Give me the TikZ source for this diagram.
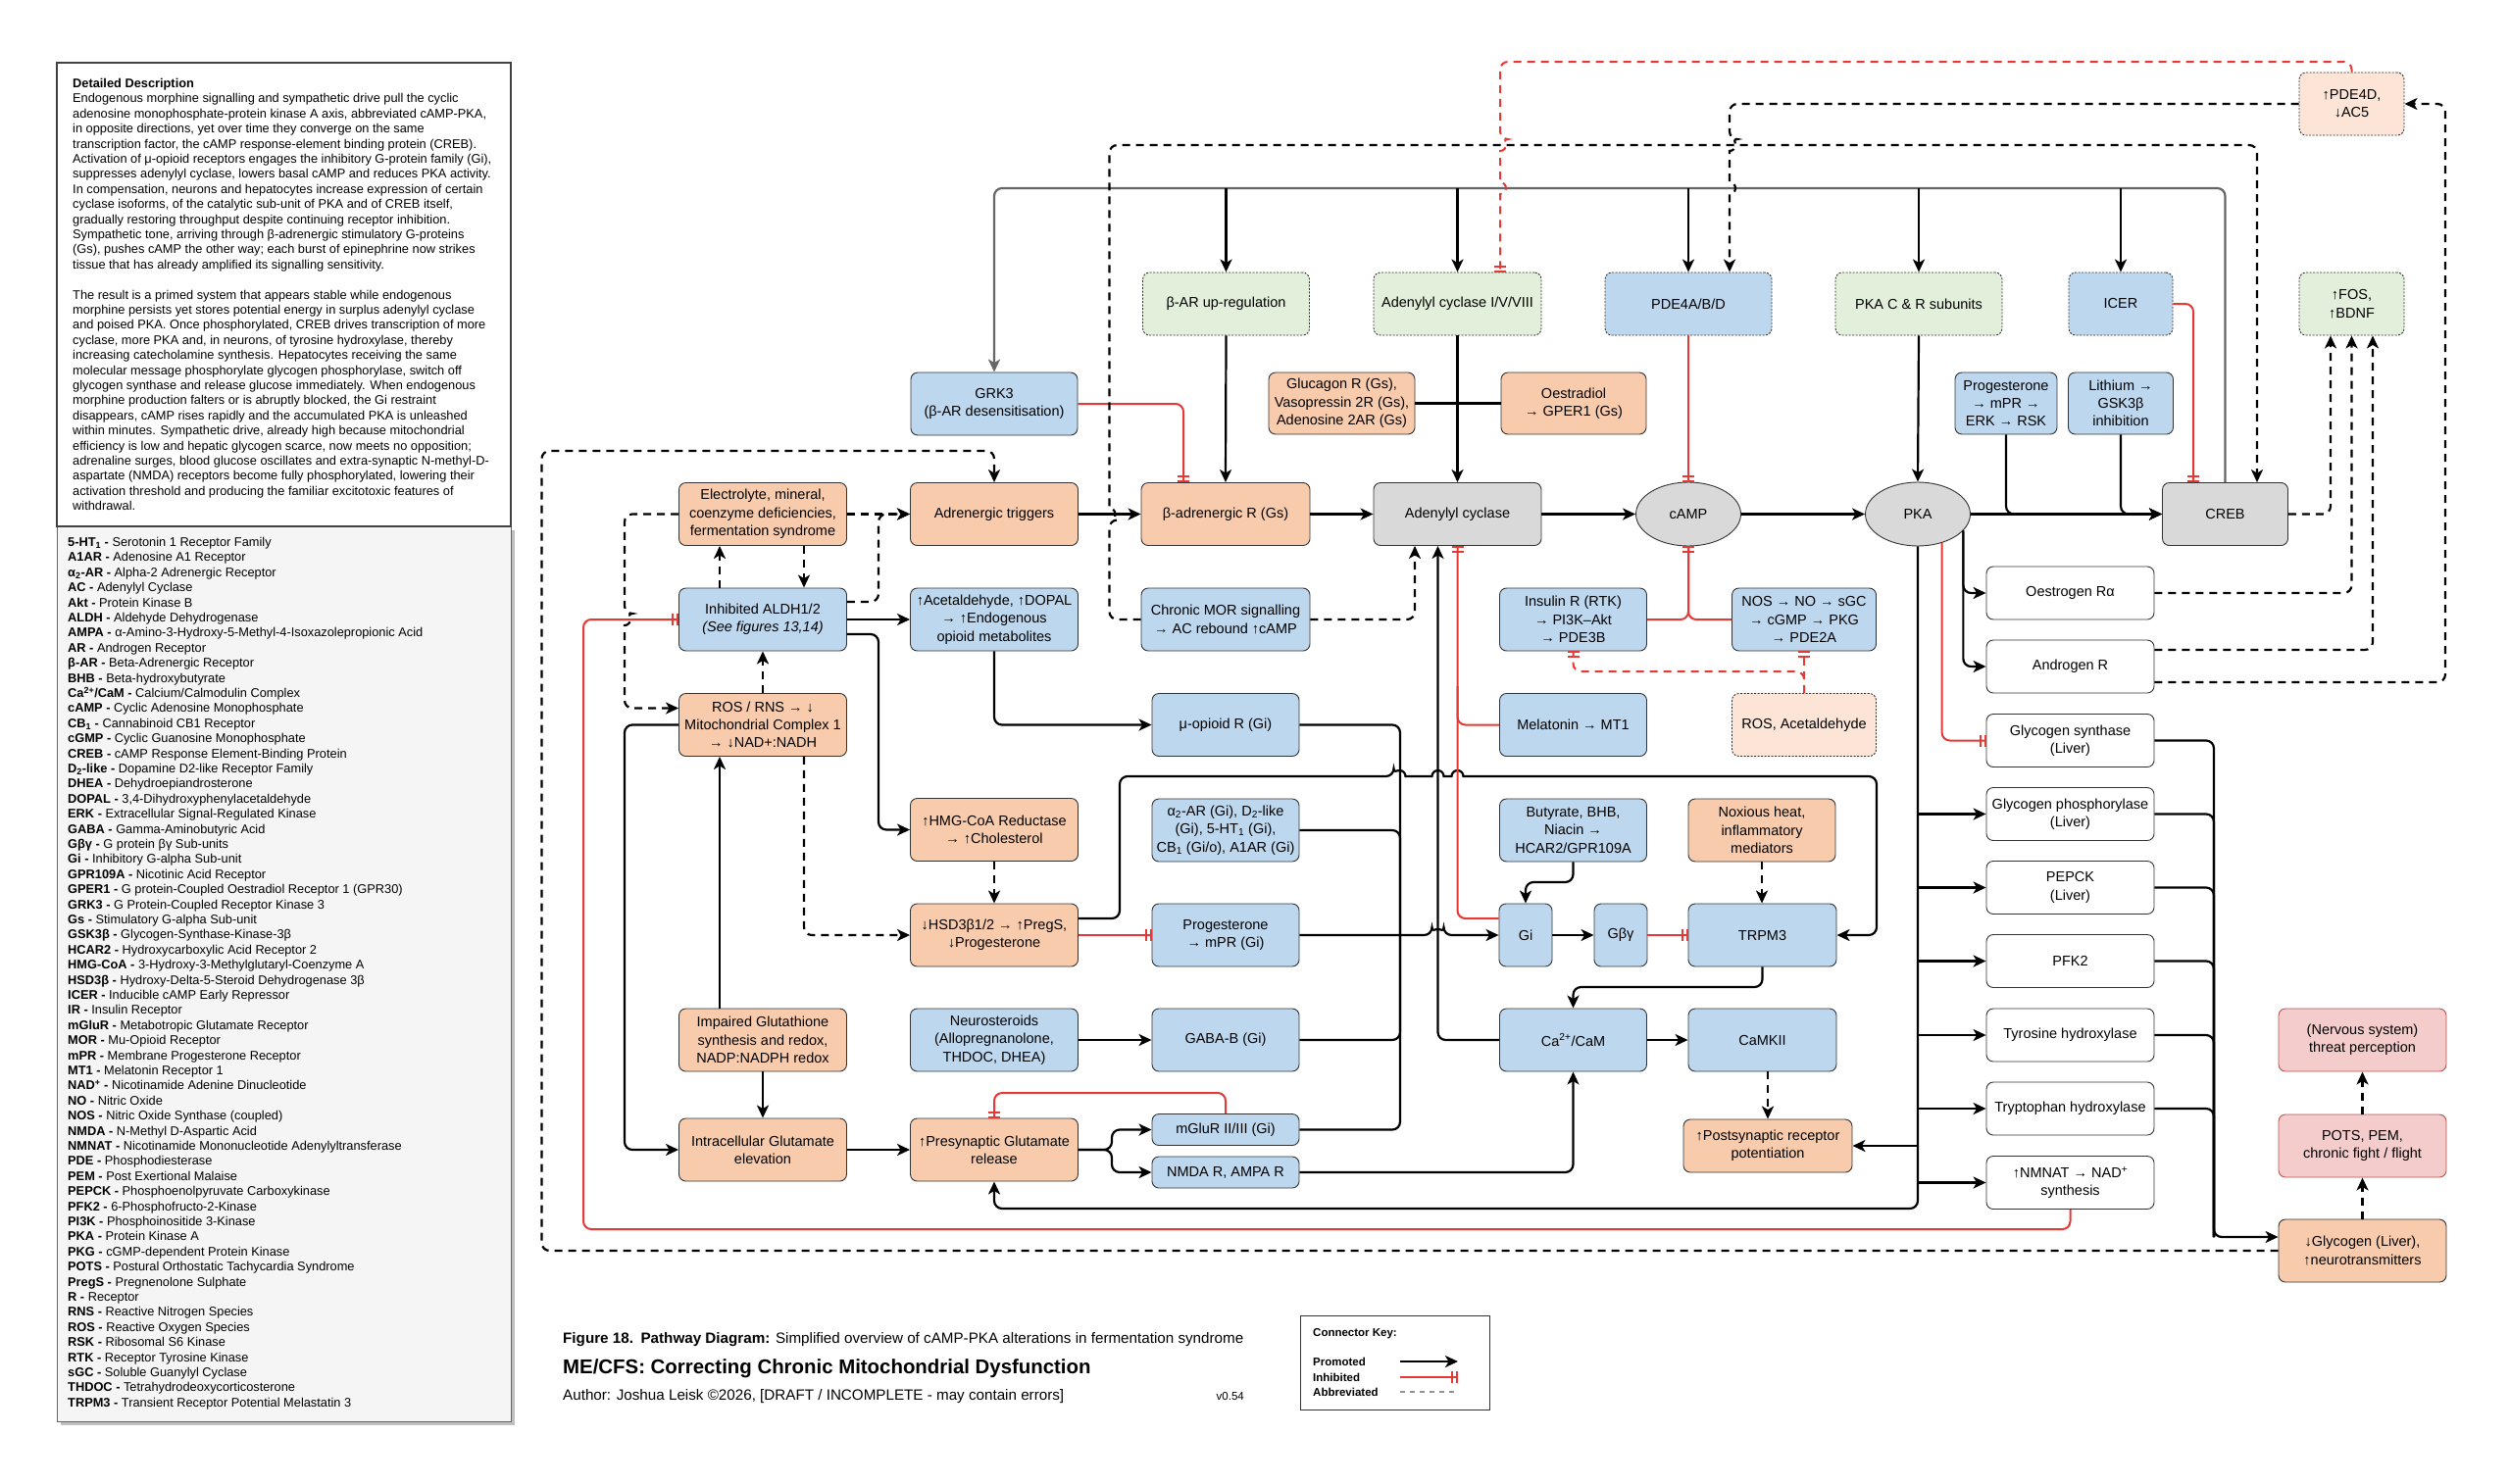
\documentclass[tikz,border=0pt]{standalone}
\usepackage{fontspec}
\setmainfont{Liberation Sans}
\usetikzlibrary{arrows.meta,shapes.geometric}

\definecolor{orfill}{HTML}{F8CBAD}
\definecolor{blfill}{HTML}{BDD7EE}
\definecolor{gyfill}{HTML}{D9D9D9}
\definecolor{grfill}{HTML}{E2EFDA}
\definecolor{pkfill}{HTML}{F4CCCC}
\definecolor{pkline}{HTML}{B85450}
\definecolor{lofill}{HTML}{FCE4D6}
\definecolor{inhred}{HTML}{E53935}
\definecolor{boxline}{HTML}{333333}
\definecolor{busgray}{HTML}{666666}
\definecolor{panelfill}{HTML}{F5F5F5}

\newcommand{\nodefont}{\fontsize{14.5}{18.3}\selectfont}
\newcommand{\panelfont}{\fontsize{12.8}{15.4}\selectfont}
\newcommand{\capfont}{\fontsize{15.2}{18}\selectfont}
\newcommand{\keyfont}{\fontsize{11.5}{14}\selectfont}
\newcommand{\abrow}[2]{\textbf{#1 -} #2}

\tikzset{
  pbox/.style={draw=boxline, line width=0.9pt, rounded corners=7pt, align=center,
    inner sep=2pt, font=\nodefont, minimum width=171pt, minimum height=64pt},
  orbox/.style={pbox, fill=orfill},
  blbox/.style={pbox, fill=blfill},
  gybox/.style={pbox, fill=gyfill},
  wtbox/.style={pbox, fill=white, minimum height=54pt},
  pkbox/.style={pbox, fill=pkfill, draw=pkline},
  grbox/.style={pbox, fill=grfill, dash pattern=on 2pt off 1.5pt},
  bldbox/.style={pbox, fill=blfill, dash pattern=on 2pt off 1.5pt},
  lobox/.style={pbox, fill=lofill, dash pattern=on 2pt off 1.5pt},
  oval/.style={ellipse, draw=boxline, line width=0.9pt, fill=gyfill, font=\nodefont,
    minimum width=107pt, minimum height=65pt, inner sep=0pt},
  link/.style={line width=2.2pt, rounded corners=8pt},
  pro/.style={link, -{Stealth[length=13pt,width=12pt,inset=3.5pt]}},
  abb/.style={pro, dash pattern=on 8pt off 6pt},
  inh/.style={draw=inhred, line width=2pt, rounded corners=8pt,
    -{Bar[width=12pt,sep=3pt]Bar[width=12pt]}},
  inhd/.style={inh, dash pattern=on 8pt off 6pt},
  bus/.style={draw=busgray, line width=2.2pt, rounded corners=8pt,
    -{Stealth[length=13pt,width=12pt,inset=3.5pt]}},
}

\begin{document}
\begin{tikzpicture}[x=1pt,y=-1pt]
\useasboundingbox (0,0) rectangle (2560,1513);
\fill[white] (0,0) rectangle (2560,1513);

% left panel
\fill[black!25] (62,541) rectangle (525,1454);
\draw[busgray, line width=1pt, fill=panelfill] (58,537) rectangle (521,1450);
\draw[black!75, line width=1.2pt, fill=white] (58,64) rectangle (521,537);
\node[anchor=north west, align=left, inner sep=0pt, font=\panelfont] (desc) at (74,80) {%
\textbf{Detailed Description}\\
Endogenous morphine signalling and sympathetic drive pull the cyclic\\
adenosine monophosphate-protein kinase A axis, abbreviated cAMP-PKA,\\
in opposite directions, yet over time they converge on the same\\
transcription factor, the cAMP response-element binding protein (CREB).\\
Activation of μ-opioid receptors engages the inhibitory G-protein family (Gi),\\
suppresses adenylyl cyclase, lowers basal cAMP and reduces PKA activity.\\
In compensation, neurons and hepatocytes increase expression of certain\\
cyclase isoforms, of the catalytic sub-unit of PKA and of CREB itself,\\
gradually restoring throughput despite continuing receptor inhibition.\\
Sympathetic tone, arriving through β-adrenergic stimulatory G-proteins\\
(Gs), pushes cAMP the other way; each burst of epinephrine now strikes\\
tissue that has already amplified its signalling sensitivity.\\[15.4pt]
The result is a primed system that appears stable while endogenous\\
morphine persists yet stores potential energy in surplus adenylyl cyclase\\
and poised PKA. Once phosphorylated, CREB drives transcription of more\\
cyclase, more PKA and, in neurons, of tyrosine hydroxylase, thereby\\
increasing catecholamine synthesis. Hepatocytes receiving the same\\
molecular message phosphorylate glycogen phosphorylase, switch off\\
glycogen synthase and release glucose immediately. When endogenous\\
morphine production falters or is abruptly blocked, the Gi restraint\\
disappears, cAMP rises rapidly and the accumulated PKA is unleashed\\
within minutes. Sympathetic drive, already high because mitochondrial\\
efficiency is low and hepatic glycogen scarce, now meets no opposition;\\
adrenaline surges, blood glucose oscillates and extra-synaptic N-methyl-D-\\
aspartate (NMDA) receptors become fully phosphorylated, lowering their\\
activation threshold and producing the familiar excitotoxic features of\\
withdrawal.};
\node[anchor=north west, align=left, inner sep=0pt, font=\panelfont] (abbrevs) at (69,548) {%
\abrow{5-HT\textsubscript{1}}{Serotonin 1 Receptor Family}\\
\abrow{A1AR}{Adenosine A1 Receptor}\\
\abrow{α\textsubscript{2}-AR}{Alpha-2 Adrenergic Receptor}\\
\abrow{AC}{Adenylyl Cyclase}\\
\abrow{Akt}{Protein Kinase B}\\
\abrow{ALDH}{Aldehyde Dehydrogenase}\\
\abrow{AMPA}{α-Amino-3-Hydroxy-5-Methyl-4-Isoxazolepropionic Acid}\\
\abrow{AR}{Androgen Receptor}\\
\abrow{β-AR}{Beta-Adrenergic Receptor}\\
\abrow{BHB}{Beta-hydroxybutyrate}\\
\abrow{Ca\textsuperscript{2+}/CaM}{Calcium/Calmodulin Complex}\\
\abrow{cAMP}{Cyclic Adenosine Monophosphate}\\
\abrow{CB\textsubscript{1}}{Cannabinoid CB1 Receptor}\\
\abrow{cGMP}{Cyclic Guanosine Monophosphate}\\
\abrow{CREB}{cAMP Response Element-Binding Protein}\\
\abrow{D\textsubscript{2}-like}{Dopamine D2-like Receptor Family}\\
\abrow{DHEA}{Dehydroepiandrosterone}\\
\abrow{DOPAL}{3,4-Dihydroxyphenylacetaldehyde}\\
\abrow{ERK}{Extracellular Signal-Regulated Kinase}\\
\abrow{GABA}{Gamma-Aminobutyric Acid}\\
\abrow{Gβγ}{G protein βγ Sub-units}\\
\abrow{Gi}{Inhibitory G-alpha Sub-unit}\\
\abrow{GPR109A}{Nicotinic Acid Receptor}\\
\abrow{GPER1}{G protein-Coupled Oestradiol Receptor 1 (GPR30)}\\
\abrow{GRK3}{G Protein-Coupled Receptor Kinase 3}\\
\abrow{Gs}{Stimulatory G-alpha Sub-unit}\\
\abrow{GSK3β}{Glycogen-Synthase-Kinase-3β}\\
\abrow{HCAR2}{Hydroxycarboxylic Acid Receptor 2}\\
\abrow{HMG-CoA}{3-Hydroxy-3-Methylglutaryl-Coenzyme A}\\
\abrow{HSD3β}{Hydroxy-Delta-5-Steroid Dehydrogenase 3β}\\
\abrow{ICER}{Inducible cAMP Early Repressor}\\
\abrow{IR}{Insulin Receptor}\\
\abrow{mGluR}{Metabotropic Glutamate Receptor}\\
\abrow{MOR}{Mu-Opioid Receptor}\\
\abrow{mPR}{Membrane Progesterone Receptor}\\
\abrow{MT1}{Melatonin Receptor 1}\\
\abrow{NAD\textsuperscript{+}}{Nicotinamide Adenine Dinucleotide}\\
\abrow{NO}{Nitric Oxide}\\
\abrow{NOS}{Nitric Oxide Synthase (coupled)}\\
\abrow{NMDA}{N-Methyl D-Aspartic Acid}\\
\abrow{NMNAT}{Nicotinamide Mononucleotide Adenylyltransferase}\\
\abrow{PDE}{Phosphodiesterase}\\
\abrow{PEM}{Post Exertional Malaise}\\
\abrow{PEPCK}{Phosphoenolpyruvate Carboxykinase}\\
\abrow{PFK2}{6-Phosphofructo-2-Kinase}\\
\abrow{PI3K}{Phosphoinositide 3-Kinase}\\
\abrow{PKA}{Protein Kinase A}\\
\abrow{PKG}{cGMP-dependent Protein Kinase}\\
\abrow{POTS}{Postural Orthostatic Tachycardia Syndrome}\\
\abrow{PregS}{Pregnenolone Sulphate}\\
\abrow{R}{Receptor}\\
\abrow{RNS}{Reactive Nitrogen Species}\\
\abrow{ROS}{Reactive Oxygen Species}\\
\abrow{RSK}{Ribosomal S6 Kinase}\\
\abrow{RTK}{Receptor Tyrosine Kinase}\\
\abrow{sGC}{Soluble Guanylyl Cyclase}\\
\abrow{THDOC}{Tetrahydrodeoxycorticosterone}\\
\abrow{TRPM3}{Transient Receptor Potential Melastatin 3}};

% main axis
\node[orbox] (elec) at (778,524.5) {Electrolyte, mineral,\\coenzyme deficiencies,\\fermentation syndrome};
\node[orbox] (adrtrig) at (1014,524.5) {Adrenergic triggers};
\node[orbox, minimum width=172pt] (betar) at (1250,524.5) {β-adrenergic R (Gs)};
\node[gybox] (ac) at (1486.5,524.5) {Adenylyl cyclase};
\node[oval] (camp) at (1722,524.5) {cAMP};
\node[oval] (pka) at (1956,524.5) {PKA};
\node[gybox, minimum width=128pt] (creb) at (2269.5,524.5) {CREB};

\node[blbox] (aldh) at (778,632) {Inhibited ALDH1/2\\\textit{(See figures 13,14)}};
\node[blbox] (acet) at (1014,632) {↑Acetaldehyde, ↑DOPAL\\→ ↑Endogenous\\opioid metabolites};
\node[blbox, minimum width=172pt] (mor) at (1250,632) {Chronic MOR signalling\\→ AC rebound ↑cAMP};
\node[blbox, minimum width=150pt] (insr) at (1604.5,632) {Insulin R (RTK)\\→ PI3K–Akt\\→ PDE3B};
\node[blbox, minimum width=147pt] (nos) at (1840,632) {NOS → NO → sGC\\→ cGMP → PKG\\→ PDE2A};

\node[orbox] (ros) at (778,739.5) {ROS / RNS → ↓\\Mitochondrial Complex 1\\→ ↓NAD+:NADH};
\node[blbox, minimum width=150pt] (muor) at (1250,739.5) {μ-opioid R (Gi)};
\node[blbox, minimum width=150pt] (mel) at (1604.5,739.5) {Melatonin → MT1};
\node[lobox, minimum width=147pt] (rosacet) at (1840,739.5) {ROS, Acetaldehyde};

\node[orbox] (hmg) at (1014,846.5) {↑HMG-CoA Reductase\\→ ↑Cholesterol};
\node[blbox, minimum width=150pt] (a2ar) at (1250,847) {α\textsubscript{2}-AR (Gi), D\textsubscript{2}-like\\(Gi), 5-HT\textsubscript{1} (Gi),\\CB\textsubscript{1} (Gi/o), A1AR (Gi)};
\node[blbox, minimum width=150pt] (buty) at (1604.5,847) {Butyrate, BHB,\\Niacin →\\HCAR2/GPR109A};
\node[orbox, minimum width=150pt] (nox) at (1797,847) {Noxious heat,\\inflammatory\\mediators};

\node[orbox] (hsd) at (1014,954) {↓HSD3β1/2 → ↑PregS,\\↓Progesterone};
\node[blbox, minimum width=150pt] (prog) at (1250,954) {Progesterone\\→ mPR (Gi)};
\node[blbox, minimum width=54pt] (gi) at (1556,954) {Gi};
\node[blbox, minimum width=54pt] (gbg) at (1653,954) {Gβγ};
\node[blbox, minimum width=151pt] (trpm) at (1797.5,954) {TRPM3};

\node[orbox] (glut) at (778,1061) {Impaired Glutathione\\synthesis and redox,\\NADP:NADPH redox};
\node[blbox] (neuro) at (1014,1061) {Neurosteroids\\(Allopregnanolone,\\THDOC, DHEA)};
\node[blbox, minimum width=150pt] (gabab) at (1250,1061) {GABA-B (Gi)};
\node[blbox, minimum width=150pt] (cacam) at (1604.5,1061) {Ca\textsuperscript{2+}/CaM};
\node[blbox, minimum width=151pt] (camk) at (1797.5,1061) {CaMKII};

\node[orbox] (intra) at (778,1173) {Intracellular Glutamate\\elevation};
\node[orbox] (pres) at (1014,1173) {↑Presynaptic Glutamate\\release};
\node[blbox, minimum width=150pt, minimum height=32pt] (mglur) at (1250,1152.5) {mGluR II/III (Gi)};
\node[blbox, minimum width=150pt, minimum height=32pt] (nmda) at (1250,1196) {NMDA R, AMPA R};
\node[orbox, minimum width=172pt, minimum height=54pt] (post) at (1803,1169) {↑Postsynaptic receptor\\potentiation};

% top row
\node[blbox, minimum width=170pt] (grk) at (1014,412) {GRK3\\(β-AR desensitisation)};
\node[grbox, minimum width=170pt] (bup) at (1250.5,310) {β-AR up-regulation};
\node[grbox] (acup) at (1486.5,310) {Adenylyl cyclase I/V/VIII};
\node[bldbox, minimum width=170pt] (pde4) at (1722,310) {PDE4A/B/D};
\node[grbox, minimum width=170pt] (pkacr) at (1957,310) {PKA C \& R subunits};
\node[bldbox, minimum width=106pt] (icer) at (2163,310) {ICER};
\node[grbox, minimum width=107pt] (fos) at (2398.5,310) {↑FOS,\\↑BDNF};
\node[lobox, minimum width=107pt] (pde4d) at (2398.5,106) {↑PDE4D,\\↓AC5};
\node[orbox, minimum width=149pt, minimum height=63pt] (gluc) at (1368.5,411.5) {Glucagon R (Gs),\\Vasopressin 2R (Gs),\\Adenosine 2AR (Gs)};
\node[orbox, minimum width=148pt, minimum height=63pt] (oestr) at (1605,411.5) {Oestradiol\\→ GPER1 (Gs)};
\node[blbox, minimum width=104pt, minimum height=63pt] (progmpr) at (2046,411.5) {Progesterone\\→ mPR →\\ERK → RSK};
\node[blbox, minimum width=107pt, minimum height=63pt] (lith) at (2163,411.5) {Lithium →\\GSK3β\\inhibition};

% PKA targets
\node[wtbox] (oer) at (2111.5,605) {Oestrogen Rα};
\node[wtbox] (andr) at (2111.5,680) {Androgen R};
\node[wtbox] (gsyn) at (2111.5,755.5) {Glycogen synthase\\(Liver)};
\node[wtbox] (gphos) at (2111.5,830.5) {Glycogen phosphorylase\\(Liver)};
\node[wtbox] (pepck) at (2111.5,905.5) {PEPCK\\(Liver)};
\node[wtbox] (pfk) at (2111.5,980.5) {PFK2};
\node[wtbox] (tyr) at (2111.5,1056) {Tyrosine hydroxylase};
\node[wtbox] (trp) at (2111.5,1131) {Tryptophan hydroxylase};
\node[wtbox] (nmnat) at (2111.5,1206.5) {↑NMNAT → NAD\textsuperscript{+}\\synthesis};

\node[pkbox] (threat) at (2409.5,1061) {(Nervous system)\\threat perception};
\node[pkbox] (pots) at (2409.5,1169) {POTS, PEM,\\chronic fight / flight};
\node[orbox] (glyco) at (2409.5,1276) {↓Glycogen (Liver),\\↑neurotransmitters};

% left cluster
\draw[abb] (elec.east) -- (adrtrig.west);
\draw[abb] ([yshift=18pt]aldh.east) -- (896,614) -- (896,524.5) -- (adrtrig.west);
\draw[abb] (elec.west) -- (637,524.5) -- (637,626) [sharp corners] arc[start angle=90,end angle=-90,radius=6pt] [rounded corners=8pt] -- (637,722.5) -- ([yshift=17pt]ros.west);
\draw[abb] ([xshift=-44pt]aldh.north) -- ([xshift=-44pt]elec.south);
\draw[abb] ([xshift=42pt]elec.south) -- ([xshift=42pt]aldh.north);
\draw[abb] (ros.north) -- (aldh.south);
\draw[pro] (aldh.east) -- (acet.west);
\draw[pro] ([yshift=-15pt]aldh.east) -- (896,647) -- (896,846.5) -- (hmg.west);
\draw[pro] (acet.south) |- (muor.west);
\draw[abb] ([xshift=42pt]ros.south) |- (hsd.west);
\draw[abb] (hmg.south) -- (hsd.north);
\draw[pro] (ros.west) -| (637,1173) -- (intra.west);
\draw[pro] ([xshift=-44pt]glut.north) -- ([xshift=-44pt]ros.south);
\draw[pro] (glut.south) -- (intra.north);
\draw[pro] (intra.east) -- (pres.west);
\draw[pro] (pres.east) -- (1134,1173) |- (mglur.west);
\draw[pro] (pres.east) -- (1134,1173) |- (nmda.west);
\draw[inh] (mglur.north) |- (1014,1115) -- (pres.north);
\draw[pro] (neuro.east) -- (gabab.west);
\draw[inh] (hsd.east) -- (prog.west);
\draw[pro] ([yshift=17pt]hsd.east) -- (1142,937) -- (1142,792) -- (1421.5,792) [sharp corners]
  arc[start angle=180,end angle=0,radius=6pt] -- (1460.5,792)
  arc[start angle=180,end angle=0,radius=6pt] -- (1480.5,792)
  arc[start angle=180,end angle=0,radius=6pt] -- (1900,792) [rounded corners=8pt] -- (1914,792) -- (1914,954) -- (trpm.east);

% Gi / Ca cluster
\draw[link] (muor.east) -| (1428,954);
\draw[link] (a2ar.east) -| (1428,954);
\draw[link] (gabab.east) -| (1428,954);
\draw[link] (mglur.east) -| (1428,954);
\draw[pro] (prog.east) -- (1460.5,954) arc[start angle=180,end angle=0,radius=6pt] -- (gi.west);
\draw[pro] (cacam.west) -| ([xshift=-20pt]ac.south);
\draw[abb] (mor.east) -| ([xshift=-43.5pt]ac.south);
\draw[inh] ([yshift=17pt]gi.west) -| (ac.south);
\draw[draw=inhred, line width=2pt, rounded corners=8pt] (mel.west) -| (1486.5,700);
\draw[pro] (buty.south) -- (1604.5,900) -| (gi.north);
\draw[pro] (gi.east) -- (gbg.west);
\draw[inh] (gbg.east) -- (trpm.west);
\draw[abb] (nox.south) -- (nox.south |- trpm.north);
\draw[pro] (trpm.south) -- (1797.5,1007) -| (cacam.north);
\draw[pro] (cacam.east) -- (camk.west);
\draw[abb] (post.north |- camk.south) -- (post.north);
\draw[pro] (nmda.east) -| (cacam.south);

% cAMP axis
\draw[pro] (adrtrig.east) -- (betar.west);
\draw[pro] (betar.east) -- (ac.west);
\draw[pro] (ac.east) -- (camp.west);
\draw[pro] (camp.east) -- (pka.west);
\draw[pro] (pka.east) -- (creb.west);
\draw[pro] (progmpr.south) |- (creb.west);
\draw[pro] (lith.south) |- (creb.west);
\draw[inh] (icer.east) -| ([xshift=-32.5pt]creb.north);
\draw[bus] (creb.north) |- (1014,192) -- (grk.north);
\foreach \n in {bup,acup,pde4,pkacr,icer}
  \draw[pro] (\n.north |- 0,192) -- (\n.north);
\draw[pro] (bup.south) -- (betar.north);
\draw[pro] (acup.south) -- (ac.north);
\draw[link] (gluc.east) -- (acup.south |- gluc.east);
\draw[link] (oestr.west) -- (acup.south |- oestr.west);
\draw[inh] (pde4.south) -- (camp.north);
\draw[inh] (insr.east) -| (camp.south);
\draw[inh] (nos.west) -| (camp.south);
\draw[inhd] (rosacet.north) -- (1840,685) -| (insr.south);
\draw[inhd] (rosacet.north) -- (nos.south);
\draw[inh] (grk.east) -| ([xshift=-43pt]betar.north);
\draw[pro] (pkacr.south) -- (pka.north);

% feedback loops
\draw[abb] (mor.west) -| (1131.5,530.5) [sharp corners] arc[start angle=-90,end angle=90,radius=6pt]
  [rounded corners=8pt] -- (1131.5,148) -| ([xshift=32.5pt]creb.north);
\draw[abb] (pde4d.west) -| (1764,142) [sharp corners] arc[start angle=90,end angle=-90,radius=6pt]
  -- (1764,186) arc[start angle=90,end angle=-90,radius=6pt] -- ([xshift=42pt]pde4.north);
\draw[inhd] (pde4d.north) |- (1530,63) -- (1530,142) [sharp corners] arc[start angle=90,end angle=-90,radius=6pt]
  -- (1530,186) arc[start angle=90,end angle=-90,radius=6pt] -- ([xshift=43.5pt]acup.north);
\draw[abb] (creb.east) -| ([xshift=-21.5pt]fos.south);
\draw[abb] (oer.east) -| (fos.south);
\draw[abb] ([yshift=17pt]andr.east) -| ([xshift=21.5pt]fos.south);
\draw[abb] ([yshift=-16pt]andr.east) -| (2494,106) -- (pde4d.east);

% PKA outputs
\draw[pro] (pka.-20) |- (oer.west);
\draw[pro] (pka.-20) |- (andr.west);
\draw[inh] (pka.-50) |- (gsyn.west);
\draw[pro] (pka.south) |- (1014,1233) -- (pres.south);
\foreach \n in {gphos,pepck,pfk,tyr,trp,nmnat}
  \draw[pro] (pka.south |- \n.west) -- (\n.west);
\draw[pro] (pka.south |- post.east) -- (post.east);
\draw[pro] (gsyn.east) -- (2258,755.5) -- (2258,1262) -- ([yshift=14pt]glyco.west);
\foreach \n in {gphos,pepck,pfk,tyr,trp}
  \draw[link] (\n.east) -| (2258,1262);
\draw[inh] (nmnat.south) |- (595,1254) |- (aldh.west);
\draw[abb] (glyco.west) -| (552.5,460) -| (adrtrig.north);
\draw[abb] (glyco.north) -- (pots.south);
\draw[abb] (pots.north) -- (threat.south);

% caption
\node[anchor=base west, inner sep=0pt, font=\capfont] (figcap) at (574,1370) {\textbf{Figure 18.}\enspace\textbf{Pathway Diagram:} Simplified overview of cAMP-PKA alterations in fermentation syndrome};
\node[anchor=base west, inner sep=0pt, font=\fontsize{20.4}{23}\selectfont\bfseries] (figttl) at (574,1401) {ME/CFS: Correcting Chronic Mitochondrial Dysfunction};
\node[anchor=base west, inner sep=0pt, font=\capfont] (figauth) at (574,1428) {Author: Joshua Leisk ©2026, [DRAFT / INCOMPLETE - may contain errors]};
\node[anchor=base east, inner sep=0pt, font=\keyfont] (figver) at (1269,1428) {v0.54};

% connector key
\node[draw=black!80, line width=1pt, minimum width=193pt, minimum height=96pt] (keybox) at (1422.5,1390) {};
\node[anchor=west, inner sep=0pt, font=\keyfont\bfseries] (keyttl) at (1339,1361) {Connector Key:};
\node[anchor=west, inner sep=0pt, font=\keyfont\bfseries] (keypro) at (1339,1389) {Promoted};
\node[anchor=west, inner sep=0pt, font=\keyfont\bfseries] (keyinh) at (1339,1405) {Inhibited};
\node[anchor=west, inner sep=0pt, font=\keyfont\bfseries] (keyabb) at (1339,1420) {Abbreviated};
\coordinate (kpa) at (1428,1389); \coordinate (kpb) at (1487,1389);
\coordinate (kia) at (1428,1405); \coordinate (kib) at (1487,1405);
\coordinate (kaa) at (1428,1420); \coordinate (kab) at (1487,1420);
\draw[pro] (kpa) -- (kpb);
\draw[inh] (kia) -- (kib);
\draw[busgray!70, line width=1.5pt, dash pattern=on 5pt off 5pt] (kaa) -- (kab);
\end{tikzpicture}
\end{document}
